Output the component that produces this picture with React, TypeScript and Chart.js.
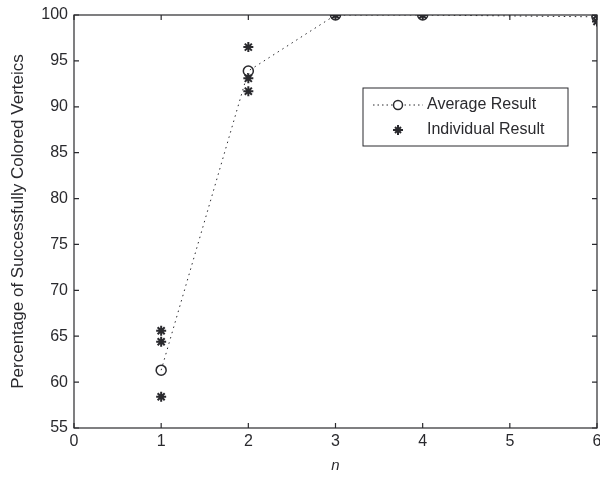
import React, { useEffect, useRef } from "react";
import { Chart, registerables } from "chart.js";

Chart.register(...registerables);

const xTicks = [0, 1, 2, 3, 4, 5, 6];
const yTicks = [55, 60, 65, 70, 75, 80, 85, 90, 95, 100];
const avgX = [1, 2, 3, 4, 6];
const avgY = [61.3, 93.9, 100, 100, 99.8];
const indX = [1, 1, 1, 2, 2, 2, 3, 4, 6, 6];
const indY = [65.6, 64.4, 58.4, 96.5, 93.1, 91.7, 100, 100, 100, 99.3];

const FONT = "'Liberation Sans', Arial, sans-serif";
const INK = "#2a2a2e";

const framePlugin = {
  id: "frame",
  afterDraw(chart: any) {
    const { ctx, chartArea: a, scales } = chart;
    ctx.save();
    ctx.strokeStyle = INK;
    ctx.lineWidth = 1.2;
    ctx.strokeRect(a.left, a.top, a.right - a.left, a.bottom - a.top);
    const tl = 5;
    ctx.beginPath();
    xTicks.forEach((v) => {
      const px = scales.x.getPixelForValue(v);
      ctx.moveTo(px, a.bottom);
      ctx.lineTo(px, a.bottom - tl);
      ctx.moveTo(px, a.top);
      ctx.lineTo(px, a.top + tl);
    });
    yTicks.forEach((v) => {
      const py = scales.y.getPixelForValue(v);
      ctx.moveTo(a.left, py);
      ctx.lineTo(a.left + tl, py);
      ctx.moveTo(a.right, py);
      ctx.lineTo(a.right - tl, py);
    });
    ctx.stroke();

    // legend
    const lx = 363, ly = 88, lw = 205, lh = 58;
    ctx.fillStyle = "#ffffff";
    ctx.fillRect(lx, ly, lw, lh);
    ctx.lineWidth = 1;
    ctx.strokeRect(lx, ly, lw, lh);
    const r1 = ly + 17, r2 = ly + 42;
    ctx.setLineDash([1.5, 3]);
    ctx.beginPath();
    ctx.moveTo(lx + 10, r1);
    ctx.lineTo(lx + 60, r1);
    ctx.stroke();
    ctx.setLineDash([]);
    ctx.fillStyle = "#ffffff";
    ctx.beginPath();
    ctx.arc(lx + 35, r1, 4.5, 0, Math.PI * 2);
    ctx.fill();
    ctx.lineWidth = 1.5;
    ctx.stroke();
    // star
    ctx.lineWidth = 2;
    ctx.beginPath();
    const sx = lx + 35, s = 5;
    ctx.moveTo(sx - s, r2); ctx.lineTo(sx + s, r2);
    ctx.moveTo(sx, r2 - s); ctx.lineTo(sx, r2 + s);
    ctx.moveTo(sx - s * 0.6, r2 - s * 0.6); ctx.lineTo(sx + s * 0.6, r2 + s * 0.6);
    ctx.moveTo(sx - s * 0.6, r2 + s * 0.6); ctx.lineTo(sx + s * 0.6, r2 - s * 0.6);
    ctx.stroke();
    ctx.fillStyle = INK;
    ctx.font = `16px ${FONT}`;
    ctx.textBaseline = "middle";
    ctx.textAlign = "left";
    ctx.fillText("Average Result", lx + 64, r1);
    ctx.fillText("Individual Result", lx + 64, r2);
    ctx.restore();
  },
};

export default function App() {
  const ref = useRef<HTMLCanvasElement>(null);
  useEffect(() => {
    document.body.style.margin = "0";
    const chart = new Chart(ref.current!, {
      type: "scatter",
      data: {
        datasets: [
          {
            label: "Individual Result",
            data: indX.map((x, i) => ({ x, y: indY[i] })),
            showLine: false,
            pointStyle: "star",
            pointRadius: 5,
            pointBorderWidth: 2,
            borderColor: INK,
            backgroundColor: INK,
          },
          {
            label: "Average Result",
            data: avgX.map((x, i) => ({ x, y: avgY[i] })),
            showLine: true,
            borderColor: INK,
            borderWidth: 1,
            borderDash: [1.5, 4],
            pointStyle: "circle",
            pointRadius: 5,
            pointBorderWidth: 1.5,
            pointBackgroundColor: "rgba(0,0,0,0)",
            backgroundColor: "rgba(0,0,0,0)",
          },
        ],
      },
      options: {
        animation: false,
        responsive: false,
        maintainAspectRatio: false,
        layout: { autoPadding: false, padding: { left: 8, right: 3, top: 15, bottom: 4 } },
        plugins: { legend: { display: false }, tooltip: { enabled: false } },
        scales: {
          x: {
            type: "linear",
            min: 0,
            max: 6,
            grid: { display: false, drawTicks: false },
            border: { display: false },
            afterBuildTicks: (s: any) => {
              s.ticks = xTicks.map((v) => ({ value: v }));
            },
            afterFit: (s: any) => {
              s.height = 47;
              s.paddingLeft = 0;
              s.paddingRight = 0;
            },
            ticks: {
              color: INK,
              font: { family: FONT, size: 16 },
              padding: 4,
              maxRotation: 0,
              autoSkip: false,
            },
            title: {
              display: true,
              text: "n",
              color: INK,
              font: { family: FONT, size: 15, style: "italic" },
              padding: { top: 0, bottom: 0 },
            },
          },
          y: {
            type: "linear",
            min: 55,
            max: 100,
            grid: { display: false, drawTicks: false },
            border: { display: false },
            afterBuildTicks: (s: any) => {
              s.ticks = yTicks.map((v) => ({ value: v }));
            },
            afterFit: (s: any) => {
              s.width = 66;
              s.paddingTop = 0;
              s.paddingBottom = 0;
            },
            ticks: {
              color: INK,
              font: { family: FONT, size: 16 },
              padding: 6,
              autoSkip: false,
            },
            title: {
              display: true,
              text: "Percentage of Successfully Colored Verteics",
              color: INK,
              font: { family: FONT, size: 17 },
              padding: { top: 0, bottom: 0 },
            },
          },
        },
      },
      plugins: [framePlugin],
    });
    return () => chart.destroy();
  }, []);
  return (
    <div style={{ position: "absolute", left: 0, top: 0, width: 600, height: 479, background: "#fff" }}>
      <canvas ref={ref} width={600} height={479} style={{ display: "block", width: 600, height: 479 }} />
    </div>
  );
}
